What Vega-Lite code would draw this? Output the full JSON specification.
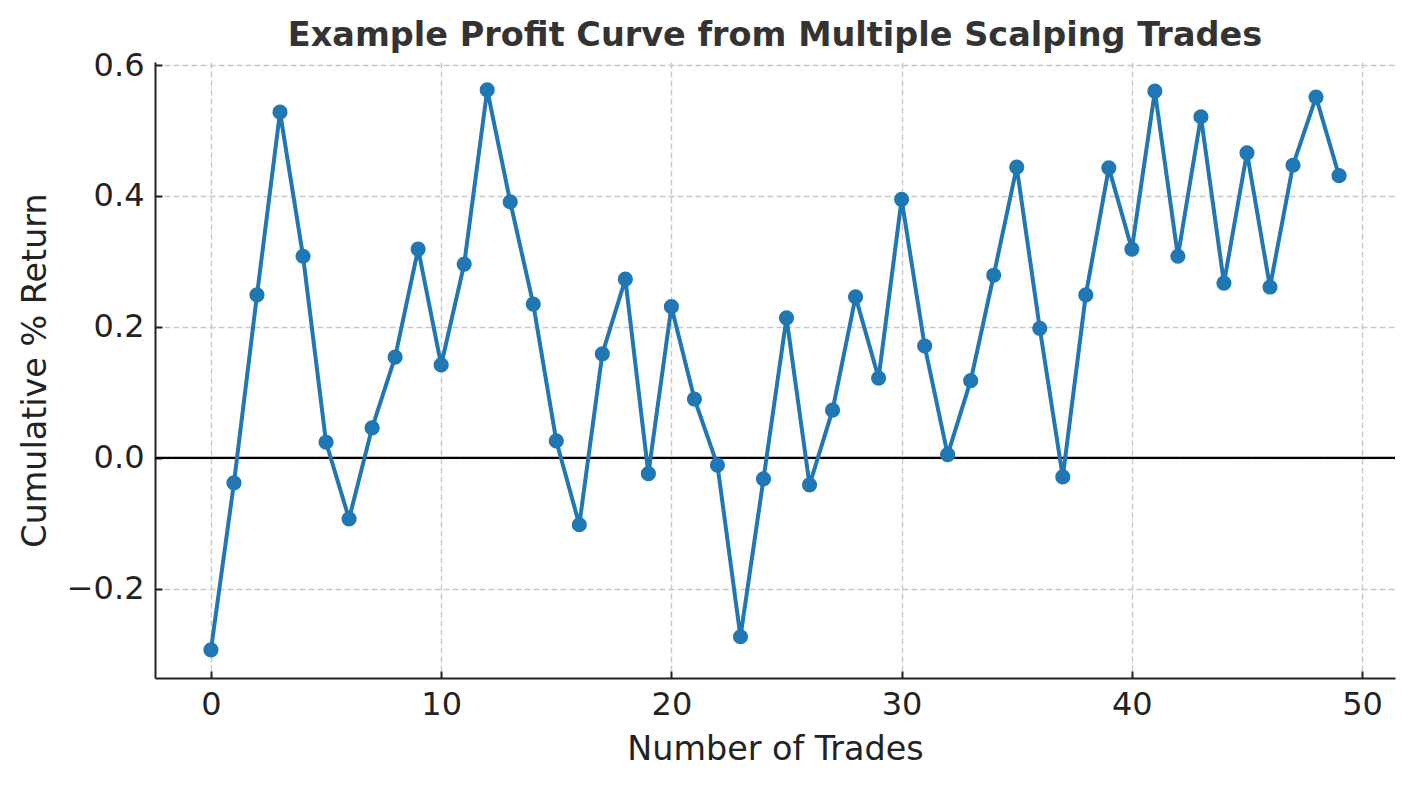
{
  "$schema": "https://vega.github.io/schema/vega-lite/v6.json",
  "width": 1240,
  "height": 616,
  "autosize": {"type": "none"},
  "padding": {"left": 155, "top": 62, "right": 20, "bottom": 107},
  "background": "white",
  "title": {
    "text": "Example Profit Curve from Multiple Scalping Trades",
    "font": "DejaVu Sans",
    "fontSize": 33.5,
    "fontWeight": "bold",
    "color": "#333333",
    "anchor": "middle",
    "offset": -4
  },
  "config": {
    "view": {"stroke": null},
    "font": "DejaVu Sans",
    "axis": {
      "labelFont": "DejaVu Sans",
      "titleFont": "DejaVu Sans",
      "labelFontSize": 32,
      "titleFontSize": 33.4,
      "labelColor": "#222222",
      "titleColor": "#222222",
      "titleFontWeight": "normal",
      "domainColor": "#222222",
      "domainWidth": 2,
      "tickColor": "#222222",
      "tickWidth": 2,
      "tickSize": -7,
      "gridColor": "#c8c8c8",
      "gridDash": [6, 3],
      "gridWidth": 1.4
    }
  },
  "data": {
    "values": [
      {"trade": 0, "ret": -0.293},
      {"trade": 1, "ret": -0.038},
      {"trade": 2, "ret": 0.249},
      {"trade": 3, "ret": 0.528},
      {"trade": 4, "ret": 0.308},
      {"trade": 5, "ret": 0.024},
      {"trade": 6, "ret": -0.093},
      {"trade": 7, "ret": 0.046},
      {"trade": 8, "ret": 0.154},
      {"trade": 9, "ret": 0.319},
      {"trade": 10, "ret": 0.142},
      {"trade": 11, "ret": 0.296},
      {"trade": 12, "ret": 0.562},
      {"trade": 13, "ret": 0.391},
      {"trade": 14, "ret": 0.235},
      {"trade": 15, "ret": 0.026},
      {"trade": 16, "ret": -0.102},
      {"trade": 17, "ret": 0.159},
      {"trade": 18, "ret": 0.273},
      {"trade": 19, "ret": -0.024},
      {"trade": 20, "ret": 0.231},
      {"trade": 21, "ret": 0.09},
      {"trade": 22, "ret": -0.011},
      {"trade": 23, "ret": -0.273},
      {"trade": 24, "ret": -0.032},
      {"trade": 25, "ret": 0.214},
      {"trade": 26, "ret": -0.041},
      {"trade": 27, "ret": 0.073},
      {"trade": 28, "ret": 0.246},
      {"trade": 29, "ret": 0.122},
      {"trade": 30, "ret": 0.395},
      {"trade": 31, "ret": 0.171},
      {"trade": 32, "ret": 0.005},
      {"trade": 33, "ret": 0.118},
      {"trade": 34, "ret": 0.279},
      {"trade": 35, "ret": 0.444},
      {"trade": 36, "ret": 0.198},
      {"trade": 37, "ret": -0.029},
      {"trade": 38, "ret": 0.249},
      {"trade": 39, "ret": 0.443},
      {"trade": 40, "ret": 0.319},
      {"trade": 41, "ret": 0.56},
      {"trade": 42, "ret": 0.308},
      {"trade": 43, "ret": 0.521},
      {"trade": 44, "ret": 0.267},
      {"trade": 45, "ret": 0.466},
      {"trade": 46, "ret": 0.261},
      {"trade": 47, "ret": 0.447},
      {"trade": 48, "ret": 0.551},
      {"trade": 49, "ret": 0.431}
    ]
  },
  "layer": [
    {
      "data": {"values": [{"zero": 0}]},
      "mark": {"type": "rule", "color": "black", "strokeWidth": 2.2},
      "encoding": {
        "y": {"field": "zero", "type": "quantitative"}
      }
    },
    {
      "mark": {
        "type": "line",
        "color": "#1f77b4",
        "strokeWidth": 4,
        "point": {"filled": true, "size": 230, "color": "#1f77b4", "opacity": 1}
      },
      "encoding": {
        "x": {
          "field": "trade",
          "type": "quantitative",
          "title": "Number of Trades",
          "scale": {"domain": [-2.43, 51.43], "nice": false, "zero": false},
          "axis": {
            "values": [0, 10, 20, 30, 40, 50],
            "labelPadding": 18,
            "titlePadding": 13
          }
        },
        "y": {
          "field": "ret",
          "type": "quantitative",
          "title": "Cumulative % Return",
          "scale": {"domain": [-0.336, 0.6046], "nice": false, "zero": false},
          "axis": {
            "values": [-0.2, 0, 0.2, 0.4, 0.6],
            "format": ".1f",
            "labelPadding": 18,
            "titlePadding": 14
          }
        }
      }
    }
  ]
}
